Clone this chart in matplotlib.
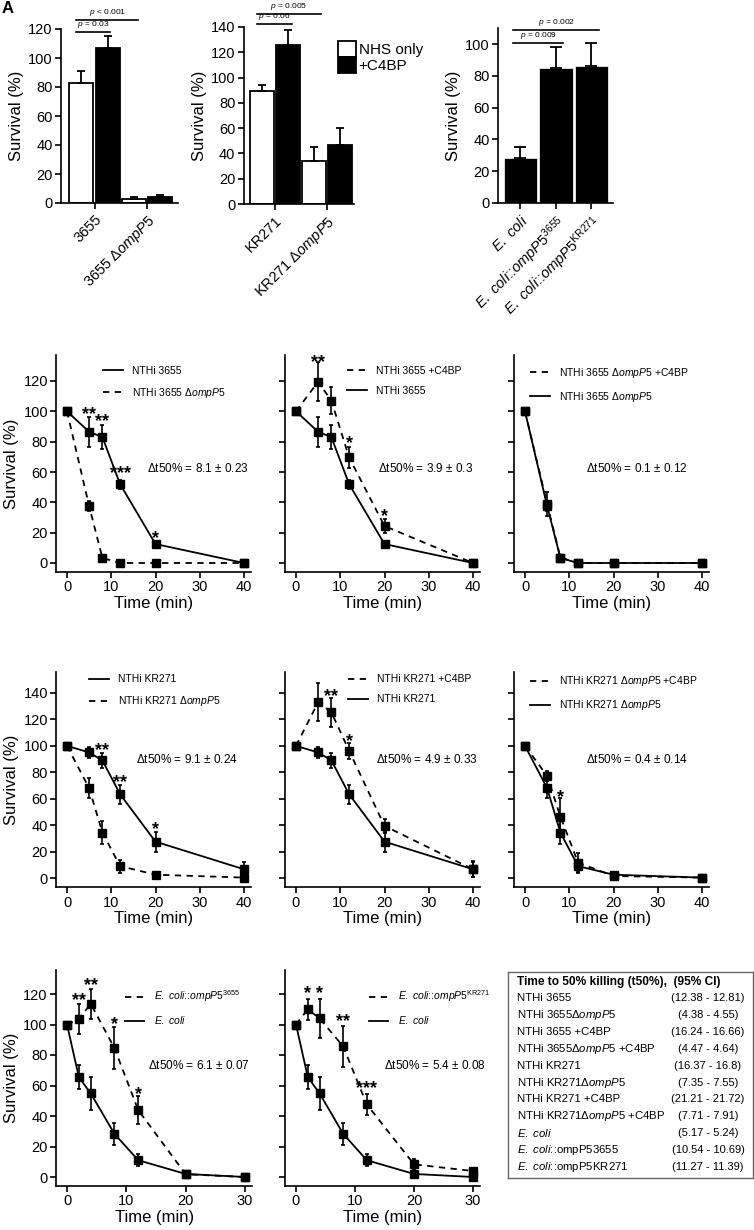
import numpy as np
import matplotlib
matplotlib.use('Agg')
import matplotlib.pyplot as plt
from matplotlib.lines import Line2D
from matplotlib.patches import Patch
from matplotlib.transforms import offset_copy

plt.rcParams['font.family'] = ['Liberation Sans', 'DejaVu Sans']
plt.rcParams['mathtext.fontset'] = 'custom'
plt.rcParams['mathtext.rm'] = 'Liberation Sans'
plt.rcParams['mathtext.it'] = 'Liberation Sans:italic'
plt.rcParams['mathtext.bf'] = 'Liberation Sans:bold'
plt.rcParams['axes.linewidth'] = 1.2

# ---- top row: bar charts
groups_3655 = ['3655', r'3655 $\mathit{\Delta ompP5}$']
nhs_3655 = [83, 3]
nhs_3655_err = [8, 0.8]
c4bp_3655 = [107, 4]
c4bp_3655_err = [8, 1.5]

groups_kr271 = ['KR271', r'KR271 $\mathit{\Delta ompP5}$']
nhs_kr271 = [89, 34]
nhs_kr271_err = [5, 11]
c4bp_kr271 = [126, 47]
c4bp_kr271_err = [12, 13]

ecoli_groups = [r'$\mathit{E.\ coli}$',
                r'$\mathit{E.\ coli}$::$\mathit{ompP5}^{\mathrm{3655}}$',
                r'$\mathit{E.\ coli}$::$\mathit{ompP5}^{\mathrm{KR271}}$']
ecoli_surv = [28, 85, 86]
ecoli_surv_err = [7, 13, 14.5]

# ---- time courses (survival %, mean and SD)
t_nthi = [0, 5, 8, 12, 20, 40]
wt3655 = [100, 86.5, 83, 52, 12.5, 0]
wt3655_err = [0, 10, 8, 3, 2, 0]
d3655 = [100, 37.6, 3.3, 0, 0, 0]
d3655_err = [0, 3, 0.5, 0, 0, 0]
wt3655_c4 = [100, 119.5, 107, 69.6, 24.4, 0]
wt3655_c4_err = [0, 12.8, 9, 7, 4.5, 0]
d3655_c4 = [100, 39, 3.6, 0, 0, 0]
d3655_c4_err = [0, 8, 1, 0, 0, 0]

wtkr = [100, 95, 89, 63.4, 27.5, 6.6]
wtkr_err = [1.5, 4.5, 5.7, 7.3, 7.5, 5.7]
dkr = [100, 68, 34.4, 9, 2.5, 0.3]
dkr_err = [0, 7.6, 8.6, 5, 1, 0.5]
wtkr_c4 = [100, 133, 125.4, 96.3, 39.4, 6.6]
wtkr_c4_err = [0, 14.5, 11, 6, 5, 6]
dkr_c4 = [100, 77.3, 46.5, 11.6, 1.5, 0.3]
dkr_c4_err = [0, 4, 13.7, 7, 1, 0.5]

t_ecoli = [0, 2, 4, 8, 12, 20, 30]
ecoli = [100, 65.5, 54.8, 28.3, 11, 2, 0]
ecoli_err = [0, 8, 11, 7, 4, 1.5, 0]
ecoli_3655 = [100, 103.6, 113.6, 84.5, 43.9, 1.8, 0]
ecoli_3655_err = [0, 10, 10, 14, 9, 1, 0]
ecoli_kr = [100, 110, 104, 85.6, 47.6, 8.3, 3.9]
ecoli_kr_err = [0, 7, 13, 13.5, 7, 3.5, 2]

# significance marks: (time, height, label)
stars_2a = [(5, 101, '**'), (8, 96, '**'), (12, 62, '***'), (20, 19, '*')]
stars_2b = [(5, 135, '**'), (12, 81.5, '*'), (20, 33.7, '*')]
stars_3a = [(8, 100, '**'), (12, 76, '**'), (20, 40, '*')]
stars_3b = [(7.9, 141, '**'), (12, 107, '*')]
stars_3c = [(8, 64, '*')]
stars_4a = [(2, 118.5, '**'), (4, 128.3, '**'), (8, 103, '*'), (12, 57, '*')]
stars_4b = [(2, 123, '*'), (4, 123, '*'), (8, 105, '**'), (12, 61, '***')]

table_names = ['NTHi 3655', r'NTHi 3655$\Delta\mathit{ompP5}$', 'NTHi 3655 +C4BP',
               r'NTHi 3655$\Delta\mathit{ompP5}$ +C4BP', 'NTHi KR271',
               r'NTHi KR271$\Delta\mathit{ompP5}$', 'NTHi KR271 +C4BP',
               r'NTHi KR271$\Delta\mathit{ompP5}$ +C4BP', r'$\mathit{E.\ coli}$',
               r'$\mathit{E.\ coli}$::ompP53655', r'$\mathit{E.\ coli}$::ompP5KR271']
table_ci = ['(12.38 - 12.81)', '(4.38 - 4.55)', '(16.24 - 16.66)', '(4.47 - 4.64)',
            '(16.37 - 16.8)', '(7.35 - 7.55)', '(21.21 - 21.72)', '(7.71 - 7.91)',
            '(5.17 - 5.24)', '(10.54 - 10.69)', '(11.27 - 11.39)']

W, H = 754, 1230
fig = plt.figure(figsize=(W / 100, H / 100), dpi=100)


def add_ax(left, top, right, bottom):
    return fig.add_axes([left / W, 1 - bottom / H, (right - left) / W, (bottom - top) / H])


def data_ax(px0, px1, vx0, vx1, xlim, py0, py1, vy0, vy1, ylim):
    """axes placed so that value vx0 sits at pixel px0 etc."""
    kx = (px1 - px0) / (vx1 - vx0)
    ky = (py0 - py1) / (vy1 - vy0)
    left = px0 + (xlim[0] - vx0) * kx
    right = px0 + (xlim[1] - vx0) * kx
    bottom = py0 + (vy0 - ylim[0]) * ky
    top = py0 - (ylim[1] - vy0) * ky
    ax = add_ax(left, top, right, bottom)
    ax.set_xlim(xlim)
    ax.set_ylim(ylim)
    ax.spines[['top', 'right']].set_visible(False)
    return ax


def bar_pair(ax, labels, nhs, nhs_err, c4, c4_err, ymax, ystep):
    x = np.arange(len(labels))
    ax.bar(x - 0.25, nhs, 0.46, color='white', edgecolor='black', lw=1.3, zorder=2)
    ax.bar(x + 0.25, c4, 0.46, color='black', edgecolor='black', lw=1.3, zorder=2)
    ax.errorbar(x - 0.25, nhs, yerr=[np.zeros(len(x)), nhs_err], fmt='none', ecolor='k',
                elinewidth=1.3, capsize=3, capthick=1.3, zorder=3, clip_on=False)
    ax.errorbar(x + 0.25, c4, yerr=[np.zeros(len(x)), c4_err], fmt='none', ecolor='k',
                elinewidth=1.3, capsize=3, capthick=1.3, zorder=3, clip_on=False)
    bar_style(ax, x, labels, ymax, ystep)


def bar_style(ax, x, labels, ymax, ystep):
    ax.set_yticks(np.arange(0, ymax + 1, ystep))
    ax.set_xticks(x)
    ax.set_xticklabels(labels, rotation=45, ha='right', rotation_mode='anchor', fontsize=10.5)
    ax.tick_params(direction='out', length=4, width=1.2, labelsize=10.5, pad=2)
    ax.tick_params(axis='x', pad=3)
    ax.set_ylabel('Survival (%)', fontsize=12, labelpad=3)


def p_bracket(ax, x0, x1, y, text):
    ax.plot([x0, x1], [y, y], color='k', lw=1.2, clip_on=False)
    ax.annotate(text, ((x0 + x1) / 2, y), xytext=(0, 1.5), textcoords='offset points',
                ha='center', va='bottom', fontsize=6, annotation_clip=False)


# A1
ax = data_ax(94.5, 147, 0, 1, (-0.64, 1.59), 203, 29, 0, 120, (0, 120))
bar_pair(ax, groups_3655, nhs_3655, nhs_3655_err, c4bp_3655, c4bp_3655_err, 120, 20)
p_bracket(ax, -0.35, 0.3, 118, r'$p$ = 0.03')
p_bracket(ax, -0.35, 0.83, 126, r'$p$ < 0.001')

# A2
ax = data_ax(275, 327, 0, 1, (-0.6, 1.52), 204, 27, 0, 140, (0, 140))
bar_pair(ax, groups_kr271, nhs_kr271, nhs_kr271_err, c4bp_kr271, c4bp_kr271_err, 140, 20)
p_bracket(ax, -0.35, 0.33, 142, r'$p$ = 0.06')
p_bracket(ax, -0.35, 0.88, 150, r'$p$ = 0.005')
ax.legend(handles=[Patch(facecolor='white', edgecolor='black', lw=1.3),
                   Patch(facecolor='black', edgecolor='black', lw=1.3)],
          labels=['NHS only', '+C4BP'], loc='upper left', bbox_to_anchor=(338 / W, 1 - 41 / H),
          bbox_transform=fig.transFigure, frameon=False, fontsize=11, handlelength=1.2,
          handleheight=1.25, labelspacing=0.0, handletextpad=0.15, borderpad=0, borderaxespad=0)

# A3
ax = data_ax(520.5, 591.5, 0, 2, (-0.63, 2.6), 203, 44, 0, 100, (0, 110))
xe = np.arange(len(ecoli_groups))
ax.bar(xe, ecoli_surv, 0.93, color='black', edgecolor='white', lw=0.5, zorder=2)
ax.errorbar(xe, ecoli_surv, yerr=[np.zeros(len(xe)), ecoli_surv_err], fmt='none', ecolor='k',
            elinewidth=1.3, capsize=4, capthick=1.3, zorder=3, clip_on=False)
bar_style(ax, xe, ecoli_groups, 100, 20)
p_bracket(ax, -0.2, 1.2, 100.6, r'$p$ = 0.009')
p_bracket(ax, -0.2, 2.2, 109, r'$p$ = 0.002')


# ---- time course panels
def curve(ax, t, y, err, dashed):
    if dashed:
        ax.errorbar(t, y, yerr=err, fmt='s--', color='k', ms=5.5, lw=1.3, elinewidth=1.2,
                    capsize=1.6, capthick=1.2, clip_on=False, dashes=(3.5, 3))
    else:
        ax.errorbar(t, y, yerr=err, fmt='s-', color='k', ms=5.5, lw=1.3, elinewidth=1.2,
                    capsize=1.6, capthick=1.2, clip_on=False)


def course(ax, series, stars, dtext, dpos, legend, legpos, xticks, yticks, ylab):
    for t, y, err, dashed in series:
        curve(ax, t, y, err, dashed)
    for tx, ty, s in stars:
        ax.annotate(s, (tx, ty), xytext=(0, -6.5), textcoords='offset points',
                    ha='center', va='baseline', fontsize=13, weight='bold',
                    annotation_clip=False)
    ax.text(dpos[0], dpos[1], dtext, ha='left', va='center', fontsize=8.5)
    hl = []
    for d in legend[1]:
        if d:
            hl.append(Line2D([], [], color='k', lw=1.3, ls=(0, (3.5, 3))))
        else:
            hl.append(Line2D([], [], color='k', lw=1.3))
    ax.legend(hl, legend[0], loc='upper left', bbox_to_anchor=legpos,
              bbox_transform=offset_copy(ax.transData, fig=fig, y=6, units='dots'),
              frameon=False, fontsize=7.5, handlelength=1.9, handletextpad=0.9,
              labelspacing=0.95, borderpad=0, borderaxespad=0)
    ax.set_xticks(xticks)
    ax.set_yticks(yticks)
    ax.tick_params(direction='out', length=4, width=1.2, labelsize=10.5, pad=2)
    if ylab:
        ax.set_ylabel('Survival (%)', fontsize=12, labelpad=3)
    else:
        ax.set_yticklabels([])
    ax.set_xlabel('Time (min)', fontsize=12, labelpad=1)


xt40 = [0, 10, 20, 30, 40]
xt30 = [0, 10, 20, 30]
yt120 = np.arange(0, 121, 20)
yt140 = np.arange(0, 141, 20)
lab_3655 = 'NTHi 3655'
lab_d3655 = r'NTHi 3655 $\mathit{\Delta ompP5}$'
lab_kr = 'NTHi KR271'
lab_dkr = r'NTHi KR271 $\mathit{\Delta ompP5}$'

# row 2
ax = data_ax(67, 244, 0, 40, (-2.4, 41.6), 563, 381, 0, 120, (-6, 137))
course(ax, [(t_nthi, wt3655, wt3655_err, False), (t_nthi, d3655, d3655_err, True)],
       stars_2a, r'$\Delta$t50% = 8.1 ± 0.23', (18, 62.5),
       ([lab_3655, lab_d3655], [False, True]), (8.1, 126), xt40, yt120, True)

ax = data_ax(296, 473, 0, 40, (-2.4, 41.6), 563, 381, 0, 120, (-6, 137))
course(ax, [(t_nthi, wt3655, wt3655_err, False), (t_nthi, wt3655_c4, wt3655_c4_err, True)],
       stars_2b, r'$\Delta$t50% = 3.9 ± 0.3', (18.5, 62),
       (['NTHi 3655 +C4BP', lab_3655], [True, False]), (11.5, 126), xt40, yt120, False)

ax = data_ax(525, 702, 0, 40, (-2.4, 41.6), 563, 381, 0, 120, (-6, 137))
course(ax, [(t_nthi, d3655_c4, d3655_c4_err, True), (t_nthi, d3655, d3655_err, False)],
       [], r'$\Delta$t50% = 0.1 ± 0.12', (13.8, 62),
       ([r'NTHi 3655 $\mathit{\Delta ompP5}$ +C4BP', lab_d3655], [True, False]), (1.1, 126),
       xt40, yt120, False)

# row 3
ax = data_ax(67, 244, 0, 40, (-2.4, 41.6), 878, 693, 0, 140, (-7, 156))
course(ax, [(t_nthi, wtkr, wtkr_err, False), (t_nthi, dkr, dkr_err, True)],
       stars_3a, r'$\Delta$t50% = 9.1 ± 0.24', (15.6, 90),
       ([lab_kr, lab_dkr], [False, True]), (5, 149.6), xt40, yt140, True)

ax = data_ax(296, 473, 0, 40, (-2.4, 41.6), 878, 693, 0, 140, (-7, 156))
course(ax, [(t_nthi, wtkr, wtkr_err, False), (t_nthi, wtkr_c4, wtkr_c4_err, True)],
       stars_3b, r'$\Delta$t50% = 4.9 ± 0.33', (18.1, 90),
       (['NTHi KR271 +C4BP', lab_kr], [True, False]), (11.8, 149.6), xt40, yt140, False)

ax = data_ax(525, 702, 0, 40, (-2.4, 41.6), 878, 693, 0, 140, (-7, 156))
course(ax, [(t_nthi, dkr, dkr_err, False), (t_nthi, dkr_c4, dkr_c4_err, True)],
       stars_3c, r'$\Delta$t50% = 0.4 ± 0.14', (13.8, 90),
       ([r'NTHi KR271 $\mathit{\Delta ompP5}$ +C4BP', lab_dkr], [True, False]), (1.1, 149.6),
       xt40, yt140, False)

# row 4
ax = data_ax(67, 245, 0, 30, (-1.85, 31.2), 1177, 994, 0, 120, (-6, 136))
course(ax, [(t_ecoli, ecoli, ecoli_err, False), (t_ecoli, ecoli_3655, ecoli_3655_err, True)],
       stars_4a, r'$\Delta$t50% = 6.1 ± 0.07', (13.6, 72.8),
       ([ecoli_groups[1], ecoli_groups[0]], [True, False]), (9.7, 119.6), xt30, yt120, True)

ax = data_ax(296, 473, 0, 30, (-1.85, 31.2), 1177, 994, 0, 120, (-6, 136))
course(ax, [(t_ecoli, ecoli, ecoli_err, False), (t_ecoli, ecoli_kr, ecoli_kr_err, True)],
       stars_4b, r'$\Delta$t50% = 5.4 ± 0.08', (14.9, 72.8),
       ([ecoli_groups[2], ecoli_groups[0]], [True, False]), (12.3, 119.6), xt30, yt120, False)

# t50 table
tab = add_ax(508, 972, 753, 1178)
tab.set_xlim(0, 245)
tab.set_ylim(206, 0)
tab.set_xticks([])
tab.set_yticks([])
for sp in tab.spines.values():
    sp.set_color('#666666')
    sp.set_linewidth(1.0)
tab.text(9, 10, 'Time to 50% killing (t50%),  (95% CI)', fontsize=8.6, weight='bold',
         va='center', ha='left')
for i, (name, ci) in enumerate(zip(table_names, table_ci)):
    yy = 26 + i * 16.9
    tab.text(9, yy, name, fontsize=8.2, va='center', ha='left')
    tab.text(200, yy, ci, fontsize=8.0, va='center', ha='center')

fig.text(2 / W, 1 - 1 / H, 'A', fontsize=12, weight='bold', va='top', ha='left')

fig.savefig('out.png', dpi=100)
